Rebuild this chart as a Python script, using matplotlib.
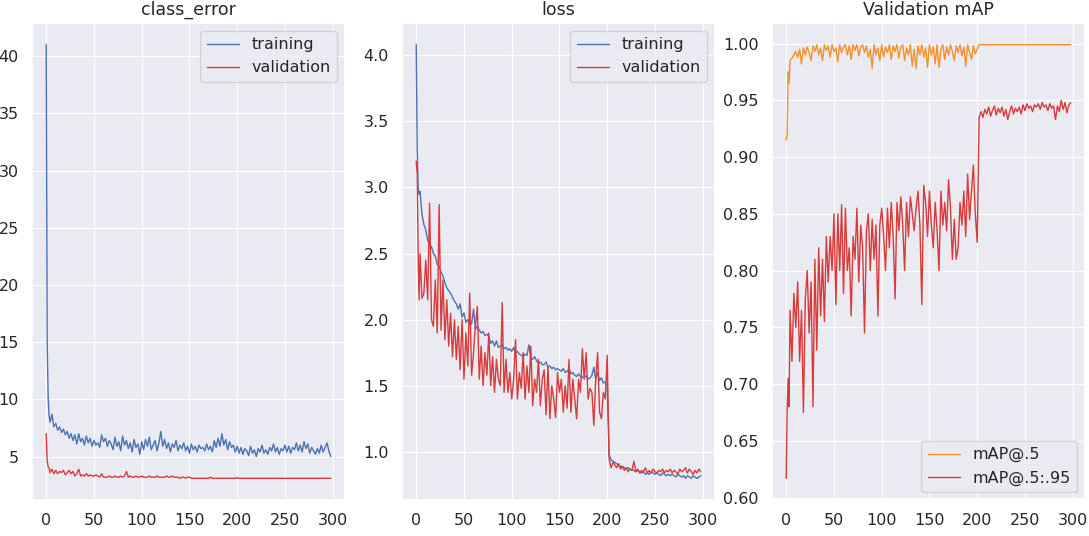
import matplotlib
matplotlib.use("Agg")
import matplotlib.pyplot as plt
import seaborn as sns

# epochs: every epoch at the start, then every second epoch
epochs = [0, 1, 2, 3] + list(range(4, 300, 2))

# class_error
ce_train = [41.0, 15.0, 10.2, 8.6,
            8.0, 8.7, 7.6, 7.9, 7.3, 7.6, 7.1, 7.4, 6.9, 7.2,
            6.6, 7.0, 6.4, 6.9, 6.1, 7.0, 6.3, 6.6, 6.0, 6.8,
            6.2, 6.6, 5.9, 6.4, 6.0, 6.2, 5.8, 6.9, 6.3, 6.6,
            5.9, 6.4, 6.1, 5.6, 6.7, 5.9, 6.3, 5.5, 6.8, 6.0,
            6.4, 5.7, 6.2, 5.4, 6.5, 5.8, 6.1, 5.2, 6.3, 5.6,
            6.5, 5.9, 6.7, 5.6, 6.0, 6.4, 5.5, 6.2, 7.2, 5.9,
            6.5, 5.7, 6.2, 5.4, 6.1, 5.8, 6.4, 5.5, 6.0, 5.7,
            6.2, 5.5, 5.9, 5.3, 6.1, 5.6, 5.9, 5.4, 6.0, 5.7,
            5.8, 5.5, 6.1, 5.6, 5.9, 5.4, 6.4, 5.8, 6.6, 5.9,
            7.0, 6.0, 6.5, 5.6, 6.3, 5.8, 6.0, 5.4, 5.9, 5.3,
            5.8, 5.2, 5.7, 5.5, 5.1, 5.9, 5.3, 5.6, 5.0, 5.7,
            5.4, 6.0, 5.3, 5.6, 5.2, 5.8, 5.5, 6.1, 5.4, 5.8,
            5.2, 5.7, 5.5, 6.0, 5.4, 5.9, 5.3, 5.8, 5.6, 6.2,
            5.5, 6.0, 5.4, 6.3, 5.7, 6.1, 5.3, 5.8, 5.5, 5.2,
            5.7, 5.3, 6.0, 5.4, 5.8, 6.2, 5.5, 5.0]
ce_val = [7.0, 4.6, 4.1, 4.0,
          3.6, 3.9, 3.5, 3.8, 3.5, 3.7, 3.6, 3.8, 3.4, 3.6,
          3.8, 3.5, 3.7, 3.3, 3.5, 3.9, 3.3, 3.4, 3.3, 3.5,
          3.3, 3.4, 3.3, 3.3, 3.4, 3.3, 3.2, 3.5, 3.2, 3.2,
          3.2, 3.3, 3.2, 3.2, 3.3, 3.2, 3.2, 3.3, 3.2, 3.3,
          3.7, 3.2, 3.3, 3.2, 3.2, 3.3, 3.2, 3.2, 3.3, 3.2,
          3.2, 3.2, 3.3, 3.2, 3.2, 3.2, 3.3, 3.2, 3.2, 3.2,
          3.2, 3.3, 3.2, 3.2, 3.3, 3.2, 3.2, 3.2, 3.1, 3.2,
          3.2, 3.1, 3.2, 3.2, 3.1, 3.1, 3.1, 3.1, 3.1, 3.1,
          3.1, 3.1, 3.1, 3.1, 3.2, 3.1, 3.1, 3.1, 3.1, 3.1,
          3.1, 3.1, 3.1, 3.1, 3.1, 3.1, 3.1, 3.1, 3.15, 3.1,
          3.1, 3.1, 3.1, 3.1, 3.1, 3.1, 3.1, 3.1, 3.1, 3.1,
          3.1, 3.1, 3.1, 3.1, 3.1, 3.1, 3.1, 3.1, 3.1, 3.1,
          3.1, 3.1, 3.1, 3.1, 3.1, 3.1, 3.1, 3.1, 3.1, 3.1,
          3.1, 3.1, 3.1, 3.1, 3.1, 3.1, 3.1, 3.1, 3.1, 3.1,
          3.1, 3.1, 3.1, 3.1, 3.1, 3.1, 3.1, 3.1]

# loss
loss_train = [4.08, 3.30, 3.00, 2.95,
              2.97, 2.80, 2.72, 2.68, 2.60, 2.57, 2.55, 2.50, 2.48, 2.42,
              2.40, 2.36, 2.33, 2.28, 2.24, 2.22, 2.20, 2.17, 2.14, 2.12,
              2.08, 2.12, 2.02, 2.05, 1.98, 2.00, 1.96, 1.97, 2.08, 1.93,
              1.95, 1.92, 1.90, 1.91, 1.88, 1.89, 1.87, 1.82, 1.84, 1.80,
              1.84, 1.79, 1.80, 1.81, 1.78, 1.79, 1.77, 1.78, 1.76, 1.79,
              1.75, 1.76, 1.74, 1.73, 1.72, 1.74, 1.73, 1.81, 1.71, 1.70,
              1.72, 1.69, 1.67, 1.68, 1.66, 1.66, 1.68, 1.64, 1.65, 1.63,
              1.64, 1.62, 1.63, 1.62, 1.61, 1.63, 1.60, 1.61, 1.63, 1.59,
              1.60, 1.58, 1.57, 1.59, 1.57, 1.56, 1.58, 1.57, 1.55, 1.56,
              1.58, 1.64, 1.55, 1.60, 1.54, 1.56, 1.52, 1.53, 1.50, 0.98,
              0.94, 0.93, 0.92, 0.91, 0.90, 0.89, 0.89, 0.88, 0.87, 0.88,
              0.87, 0.86, 0.86, 0.85, 0.86, 0.85, 0.84, 0.85, 0.83, 0.84,
              0.83, 0.85, 0.84, 0.83, 0.84, 0.83, 0.82, 0.84, 0.83, 0.82,
              0.83, 0.82, 0.83, 0.82, 0.81, 0.83, 0.82, 0.81, 0.82, 0.80,
              0.82, 0.81, 0.80, 0.82, 0.81, 0.80, 0.81, 0.82]
loss_val = [3.20, 3.10, 2.50, 2.15,
            2.50, 2.16, 2.20, 2.45, 2.15, 2.88, 2.00, 1.95, 2.30, 1.90,
            2.87, 1.92, 2.30, 1.85, 2.15, 1.80, 2.05, 1.72, 2.00, 1.70,
            1.95, 1.62, 2.00, 1.55, 1.90, 1.65, 2.20, 1.58, 1.75, 1.95,
            2.10, 1.55, 1.80, 1.50, 1.75, 1.58, 1.90, 1.50, 1.72, 1.45,
            1.70, 1.55, 1.50, 2.13, 1.45, 1.70, 1.45, 1.60, 1.40, 1.55,
            1.85, 1.40, 1.60, 1.48, 1.75, 1.40, 1.65, 1.45, 1.80, 1.35,
            1.55, 1.45, 1.70, 1.35, 1.55, 1.62, 1.28, 1.65, 1.25, 1.50,
            1.40, 1.26, 1.60, 1.45, 1.55, 1.30, 1.50, 1.33, 1.70, 1.30,
            1.55, 1.40, 1.25, 1.55, 1.45, 1.78, 1.55, 1.75, 1.40, 1.48,
            1.45, 1.20, 1.55, 1.75, 1.30, 1.25, 1.45, 1.40, 1.73, 0.95,
            0.88, 0.92, 0.90, 0.88, 0.91, 0.87, 0.89, 0.86, 0.88, 0.85,
            0.87, 0.86, 0.93, 0.85, 0.87, 0.84, 0.86, 0.85, 0.88, 0.84,
            0.86, 0.84, 0.87, 0.85, 0.84, 0.86, 0.85, 0.87, 0.84, 0.86,
            0.85, 0.87, 0.84, 0.86, 0.85, 0.83, 0.87, 0.85, 0.86, 0.88,
            0.84, 0.87, 0.85, 0.83, 0.86, 0.84, 0.87, 0.85]

# validation mAP
map50 = [0.915, 0.920, 0.975, 0.965,
         0.985, 0.987, 0.990, 0.993, 0.988, 0.995, 0.982, 0.996, 0.990, 0.997,
         0.992, 0.985, 0.998, 0.993, 0.999, 0.990, 0.996, 0.985, 0.999, 0.994,
         0.998, 0.988, 0.999, 0.993, 0.996, 0.984, 0.999, 0.992, 0.997, 0.999,
         0.990, 0.998, 0.986, 0.999, 0.994, 0.999, 0.989, 0.997, 0.999, 0.992,
         0.998, 0.988, 0.995, 0.978, 0.999, 0.990, 0.996, 0.985, 0.999, 0.988,
         0.997, 0.992, 0.999, 0.986, 0.998, 0.993, 0.999, 0.987, 0.997, 0.999,
         0.985, 0.996, 0.990, 0.999, 0.980, 0.995, 0.978, 0.998, 0.990, 0.999,
         0.988, 0.996, 0.979, 0.999, 0.990, 0.997, 0.982, 0.999, 0.979, 0.995,
         0.999, 0.986, 0.997, 0.990, 0.999, 0.993, 0.985, 0.998, 0.992, 0.999,
         0.989, 0.997, 0.980, 0.999, 0.992, 0.986, 0.998, 0.991, 0.995, 0.999,
         0.999, 0.999, 0.999, 0.999, 0.999, 0.999, 0.999, 0.999, 0.999, 0.999,
         0.999, 0.999, 0.999, 0.999, 0.999, 0.999, 0.999, 0.999, 0.999, 0.999,
         0.999, 0.999, 0.999, 0.999, 0.999, 0.999, 0.999, 0.999, 0.999, 0.999,
         0.999, 0.999, 0.999, 0.999, 0.999, 0.999, 0.999, 0.999, 0.999, 0.999,
         0.999, 0.999, 0.999, 0.999, 0.999, 0.999, 0.999, 0.999]
map5095 = [0.617, 0.680, 0.705, 0.680,
           0.765, 0.720, 0.780, 0.750, 0.790, 0.720, 0.765, 0.675, 0.775, 0.800,
           0.745, 0.790, 0.680, 0.810, 0.730, 0.820, 0.760, 0.810, 0.755, 0.830,
           0.790, 0.830, 0.800, 0.850, 0.770, 0.850, 0.800, 0.858, 0.780, 0.855,
           0.800, 0.820, 0.760, 0.830, 0.810, 0.855, 0.790, 0.840, 0.820, 0.745,
           0.835, 0.850, 0.800, 0.845, 0.810, 0.840, 0.760, 0.840, 0.855, 0.830,
           0.800, 0.855, 0.820, 0.860, 0.830, 0.775, 0.860, 0.835, 0.865, 0.840,
           0.800, 0.860, 0.830, 0.865, 0.850, 0.835, 0.855, 0.870, 0.840, 0.770,
           0.875, 0.860, 0.830, 0.870, 0.840, 0.820, 0.860, 0.835, 0.800, 0.870,
           0.840, 0.860, 0.835, 0.880, 0.855, 0.810, 0.845, 0.810, 0.820, 0.860,
           0.840, 0.870, 0.830, 0.885, 0.845, 0.870, 0.893, 0.850, 0.825, 0.935,
           0.940, 0.935, 0.942, 0.938, 0.944, 0.936, 0.941, 0.945, 0.937, 0.943,
           0.939, 0.944, 0.936, 0.942, 0.933, 0.940, 0.945, 0.938, 0.943, 0.940,
           0.944, 0.938, 0.946, 0.941, 0.947, 0.943, 0.945, 0.940, 0.946, 0.944,
           0.947, 0.942, 0.948, 0.944, 0.946, 0.941, 0.947, 0.943, 0.945, 0.933,
           0.945, 0.940, 0.950, 0.942, 0.948, 0.939, 0.946, 0.948]

BLUE, RED, ORANGE = "#4c72b0", "#d93a3a", "#f5902a"

sns.set_theme(style="darkgrid", rc={"grid.linewidth": 0.8})
plt.rcParams["font.family"] = ["DejaVu Sans"]

fig = plt.figure(figsize=(10.89, 5.36), dpi=100)
W, H = 1089, 536
axes = [fig.add_axes([l / W, 36 / H, 313 / W, 477 / H]) for l in (32, 402, 772)]

ax = axes[0]
ax.plot(epochs, ce_train, color=BLUE, lw=1, label="training")
ax.plot(epochs, ce_val, color=RED, lw=1, label="validation")
ax.set_title("class_error", fontsize=12.5)
ax.legend(loc="upper right", fontsize=11.5)

ax = axes[1]
ax.plot(epochs, loss_train, color=BLUE, lw=1, label="training")
ax.plot(epochs, loss_val, color=RED, lw=1, label="validation")
ax.set_title("loss", fontsize=12.5)
ax.legend(loc="upper right", fontsize=11.5)

ax = axes[2]
ax.plot(epochs, map50, color=ORANGE, lw=1, label="mAP@.5")
ax.plot(epochs, map5095, color=RED, lw=1, label="mAP@.5:.95")
ax.set_title("Validation mAP", fontsize=12.5)
ax.legend(loc="lower right", fontsize=11.5)

for ax in axes:
    ax.set_xticks([0, 50, 100, 150, 200, 250, 300])
    ax.tick_params(labelsize=11.5)

fig.savefig("out.png", dpi=100)
